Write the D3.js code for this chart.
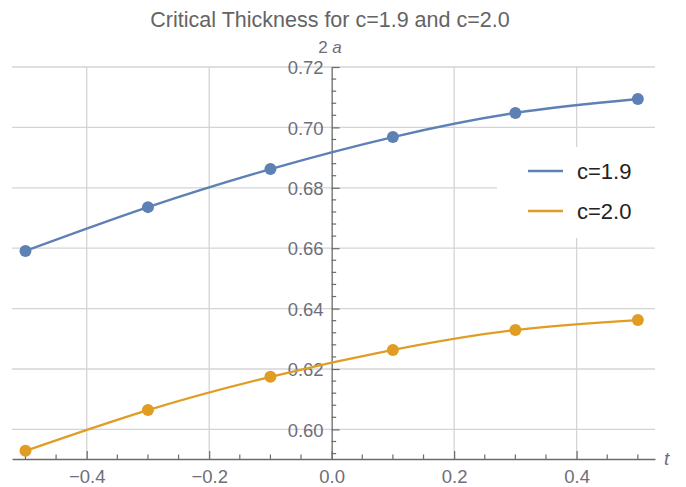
<!DOCTYPE html>
<html>
<head>
<meta charset="utf-8">
<script src="https://cdn.jsdelivr.net/npm/d3@7"></script>
<style>
	body { margin: 0; background: #fff; }
	svg text { font-family: "Liberation Sans", Arial, sans-serif; }
</style>
</head>
<body>
<svg id="chart" width="686" height="487"></svg>
<script>
var tValues = [-0.5, -0.3, -0.1, 0.1, 0.3, 0.5];
var thickness19 = [0.6591, 0.6736, 0.6862, 0.6968, 0.7048, 0.7094];
var thickness20 = [0.5929, 0.6064, 0.6174, 0.6263, 0.6329, 0.6362];
var seriesNames = ["c=1.9", "c=2.0"];
var seriesColors = ["#5e81b5", "#e19c24"];
var xTicks = [-0.4, -0.2, 0.0, 0.2, 0.4];
var yTicks = [0.60, 0.62, 0.64, 0.66, 0.68, 0.70, 0.72];

var svg = d3.select("#chart");
var x = d3.scaleLinear().domain([-0.522, 0.528]).range([12, 655]);
var y = d3.scaleLinear().domain([0.5902, 0.72]).range([459, 67]);

// grid
svg.append("g").selectAll("line")
	.data(yTicks).enter().append("line")
	.attr("x1", x.range()[0]).attr("x2", x.range()[1])
	.attr("y1", function(d) { return y(d); })
	.attr("y2", function(d) { return y(d); })
	.attr("stroke", "#d4d4d4").attr("stroke-width", 1.3);
svg.append("g").selectAll("line")
	.data(xTicks.filter(function(d) { return d !== 0; })).enter().append("line")
	.attr("x1", function(d) { return x(d); })
	.attr("x2", function(d) { return x(d); })
	.attr("y1", y.range()[0]).attr("y2", y.range()[1])
	.attr("stroke", "#d4d4d4").attr("stroke-width", 1.3);

// legend backdrop hides grid
svg.append("rect")
	.attr("x", 497).attr("y", 147).attr("width", 189).attr("height", 91)
	.attr("fill", "#fff");

// axes
var axisColor = "#6b6b6b";
var xAxis = d3.axisBottom(x).tickValues(xTicks).tickSizeInner(-8).tickSizeOuter(0)
	.tickFormat(function(d) { return d3.format(".1f")(d).replace("-", "\u2212"); });
var gx = svg.append("g").attr("transform", "translate(0," + y.range()[0] + ")").call(xAxis);
var xMinor = d3.range(-0.5, 0.5001, 0.05).filter(function(d) {
	return Math.abs(Math.round(d * 10) / 10 - d) > 1e-6 || Math.round(d * 10) % 2 !== 0;
});
gx.selectAll(".minor").data(xMinor).enter().append("line")
	.attr("class", "minor")
	.attr("x1", function(d) { return x(d); }).attr("x2", function(d) { return x(d); })
	.attr("y1", 0).attr("y2", -4.5);

var yAxis = d3.axisLeft(y).tickValues(yTicks).tickSizeInner(-8).tickSizeOuter(0)
	.tickFormat(d3.format(".2f"));
var gy = svg.append("g").attr("transform", "translate(" + x(0) + ",0)").call(yAxis);
var yMinor = d3.range(0.592, 0.7201, 0.004).filter(function(d) {
	return Math.abs(Math.round(d * 50) / 50 - d) > 1e-6;
});
gy.selectAll(".minor").data(yMinor).enter().append("line")
	.attr("class", "minor")
	.attr("x1", 0).attr("x2", 4.5)
	.attr("y1", function(d) { return y(d); }).attr("y2", function(d) { return y(d); });

[gx, gy].forEach(function(g) {
	g.select(".domain").attr("stroke", axisColor).attr("stroke-width", 1.3);
	g.selectAll("line").attr("stroke", axisColor).attr("stroke-width", 1.2);
	g.selectAll("text").attr("fill", "#6e6e7a").attr("font-size", 18.5)
		.attr("font-family", "Liberation Sans, Arial, sans-serif");
});
gx.selectAll(".tick text").attr("dy", null).attr("y", 24);
gy.selectAll(".tick text").attr("x", -8).attr("dy", "0.36em");
gy.selectAll(".tick").filter(function(d) { return d === 0; }).remove();

// axis labels
svg.append("text").attr("x", 664).attr("y", 465)
	.attr("font-size", 19).attr("font-style", "italic").attr("fill", "#6e6e7a")
	.text("t");
var yl = svg.append("text").attr("x", 330).attr("y", 53).attr("text-anchor", "middle")
	.attr("font-size", 17).attr("fill", "#6e6e7a");
yl.append("tspan").text("2 ");
yl.append("tspan").attr("font-style", "italic").text("a");

// title
svg.append("text").attr("x", 330).attr("y", 27).attr("text-anchor", "middle")
	.attr("font-size", 21.5).attr("fill", "#646464")
	.text("Critical Thickness for c=1.9 and c=2.0");

// series
var series = [thickness19, thickness20];
var line = d3.line()
	.x(function(d, i) { return x(tValues[i]); })
	.y(function(d) { return y(d); })
	.curve(d3.curveNatural);

series.forEach(function(vals, k) {
	svg.append("path").datum(vals)
		.attr("d", line)
		.attr("fill", "none")
		.attr("stroke", seriesColors[k])
		.attr("stroke-width", 2.3);
	svg.append("g").selectAll("circle")
		.data(vals).enter().append("circle")
		.attr("cx", function(d, i) { return x(tValues[i]); })
		.attr("cy", function(d) { return y(d); })
		.attr("r", 6)
		.attr("fill", seriesColors[k]);
});

// legend
var legend = svg.append("g").selectAll("g")
	.data(seriesNames).enter().append("g")
	.attr("transform", function(d, i) { return "translate(528," + (171 + i * 40) + ")"; });
legend.append("line")
	.attr("x1", 0).attr("x2", 35).attr("y1", 0).attr("y2", 0)
	.attr("stroke", function(d, i) { return seriesColors[i]; })
	.attr("stroke-width", 2.3);
legend.append("text")
	.attr("x", 49).attr("dy", "0.36em")
	.attr("font-size", 22).attr("fill", "#222")
	.text(function(d) { return d; });
</script>
</body>
</html>
